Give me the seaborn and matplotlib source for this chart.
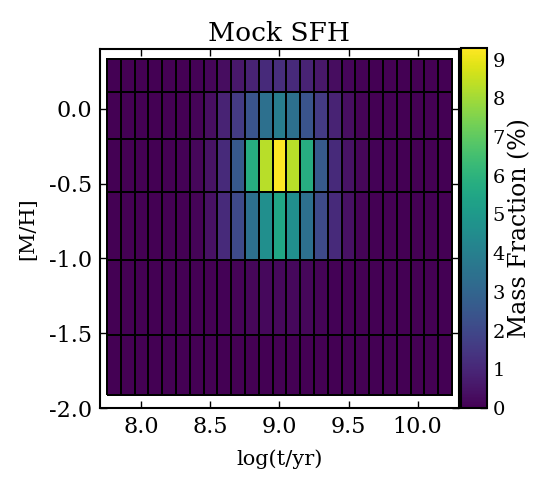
import numpy as np
import matplotlib
matplotlib.use("Agg")
import matplotlib.pyplot as plt
import seaborn as sns

# log(age) bin centres and [M/H] grid (MILES-like)
log_age = [7.8, 7.9, 8.0, 8.1, 8.2, 8.3, 8.4, 8.5, 8.6, 8.7, 8.8, 8.9, 9.0,
           9.1, 9.2, 9.3, 9.4, 9.5, 9.6, 9.7, 9.8, 9.9, 10.0, 10.1, 10.2]
metal = [-1.71, -1.31, -0.71, -0.40, 0.00, 0.22]

# mass fraction (%) per cell, rows follow `metal`
row_m171 = [0, 0, 0, 0, 0, 0, 0, 0, 0, 0, 0, 0, 0,
            0, 0, 0, 0, 0, 0, 0, 0, 0, 0, 0, 0]
row_m131 = [0, 0, 0, 0, 0, 0, 0, 0.02, 0.05, 0.1, 0.15, 0.2, 0.2,
            0.2, 0.15, 0.1, 0.05, 0.02, 0, 0, 0, 0, 0, 0, 0]
row_m071 = [0, 0, 0, 0, 0, 0.02, 0.1, 0.4, 1.1, 2.1, 3.4, 4.6, 5.5,
            4.6, 3.4, 2.1, 1.1, 0.4, 0.1, 0.02, 0, 0, 0, 0, 0]
row_m040 = [0, 0, 0, 0, 0, 0.05, 0.15, 0.45, 1.1, 2.6, 5.8, 8.3, 9.3,
            8.3, 5.8, 2.6, 1.1, 0.45, 0.15, 0.05, 0, 0, 0, 0, 0]
row_p000 = [0, 0, 0, 0, 0, 0.03, 0.1, 0.35, 0.9, 1.6, 2.4, 3.4, 3.9,
            3.4, 2.4, 1.6, 0.9, 0.35, 0.1, 0.03, 0, 0, 0, 0, 0]
row_p022 = [0, 0, 0, 0, 0, 0, 0.05, 0.12, 0.3, 0.6, 0.9, 1.1, 1.2,
            1.1, 0.9, 0.6, 0.3, 0.12, 0.05, 0, 0, 0, 0, 0, 0]

x_ticks = [8.0, 8.5, 9.0, 9.5, 10.0]
y_ticks = [-2.0, -1.5, -1.0, -0.5, 0.0]
cbar_ticks = list(range(10))

sns.set_style("ticks", {"axes.edgecolor": "black", "text.color": "black",
                        "xtick.color": "black", "ytick.color": "black",
                        "axes.labelcolor": "black"})
plt.rcParams["font.family"] = ["DejaVu Serif"]
plt.rcParams["axes.unicode_minus"] = False
plt.rcParams["axes.linewidth"] = 1.5

grid = np.array([row_m171, row_m131, row_m071, row_m040, row_p000, row_p022])

# bin edges halfway between centres
age = np.array(log_age)
x_edges = np.concatenate([[age[0] - 0.05], (age[:-1] + age[1:]) / 2, [age[-1] + 0.05]])
mh = np.array(metal)
mid = (mh[:-1] + mh[1:]) / 2
y_edges = np.concatenate([[mh[0] - (mid[0] - mh[0])], mid, [mh[-1] + (mh[-1] - mid[-1])]])

fig = plt.figure(figsize=(5.59, 4.90), dpi=100)
ax = fig.add_axes([0.1789, 0.1673, 0.6422, 0.7327])
cax = fig.add_axes([0.8247, 0.1673, 0.0465, 0.7347])

cmap = sns.color_palette("viridis", as_cmap=True)
mesh = ax.pcolormesh(x_edges, y_edges, grid, cmap=cmap, vmin=0, vmax=grid.max(),
                     edgecolors="black", linewidth=1.3)

ax.set_xlim(7.70, 10.30)
ax.set_ylim(-2.0, 0.40)
ax.set_xticks(x_ticks)
ax.set_xticklabels(["%.1f" % t for t in x_ticks])
ax.set_yticks(y_ticks)
ax.set_yticklabels(["%.1f" % t for t in y_ticks])
ax.tick_params(direction="in", top=True, right=True, length=5, width=1.0,
               labelsize=16, pad=6)
ax.set_xlabel("log(t/yr)", fontsize=15, labelpad=8)
ax.set_ylabel("[M/H]", fontsize=15, labelpad=8)
ax.set_title("Mock SFH", fontsize=19, pad=6)

cb = fig.colorbar(mesh, cax=cax)
cb.set_ticks(cbar_ticks)
cb.ax.tick_params(direction="in", length=5, width=1.0, labelsize=14, pad=4)
cb.outline.set_linewidth(1.5)
cb.set_label("Mass Fraction (%)", fontsize=17, labelpad=2)

fig.savefig("out.png", dpi=100)
